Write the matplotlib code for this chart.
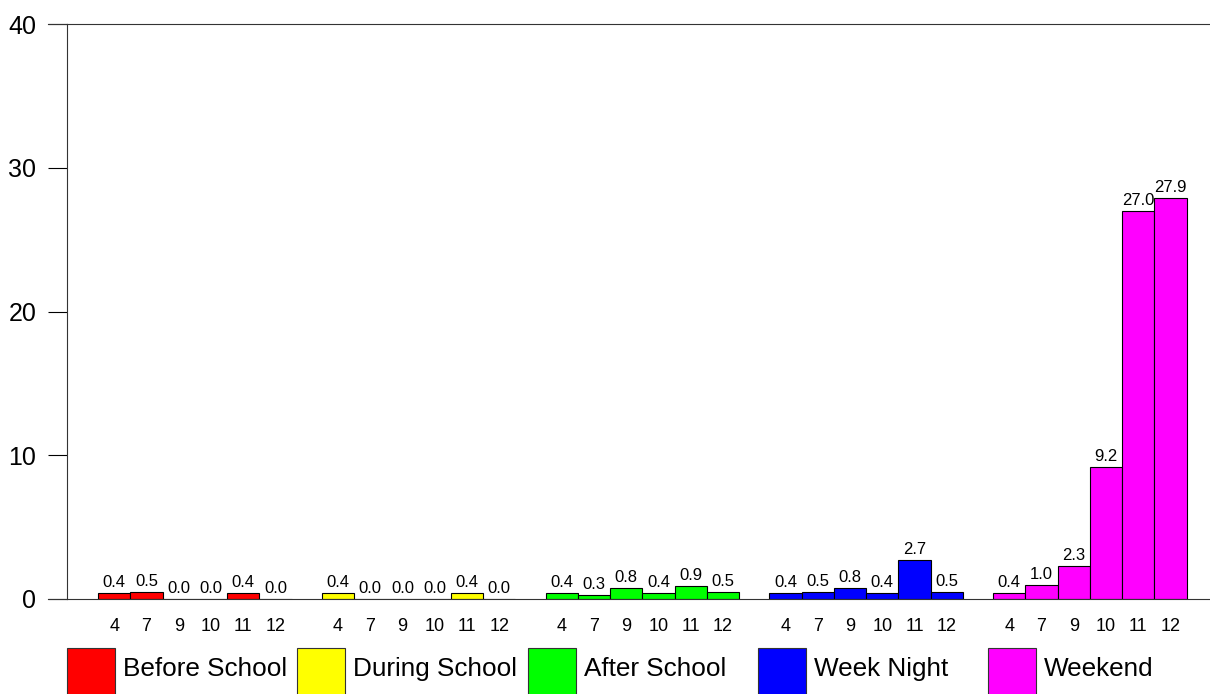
import matplotlib.pyplot as plt
from matplotlib.patches import Rectangle

plt.rcParams['font.family'] = ['Liberation Sans', 'DejaVu Sans']

grades = ["4", "7", "9", "10", "11", "12"]
periods = ["Before School", "During School", "After School", "Week Night", "Weekend"]
colors = ["#ff0000", "#ffff00", "#00ff00", "#0000ff", "#ff00ff"]

before_school = [0.4, 0.5, 0.0, 0.0, 0.4, 0.0]
during_school = [0.4, 0.0, 0.0, 0.0, 0.4, 0.0]
after_school = [0.4, 0.3, 0.8, 0.4, 0.9, 0.5]
week_night = [0.4, 0.5, 0.8, 0.4, 2.7, 0.5]
weekend = [0.4, 1.0, 2.3, 9.2, 27.0, 27.9]
values = [before_school, during_school, after_school, week_night, weekend]


def main():
    W, H = 1210, 694
    fig = plt.figure(figsize=(W / 100, H / 100), dpi=100)
    ax = fig.add_axes([67 / W, (H - 599) / H, (W - 67) / W, (599 - 24) / H])

    start = 0.96
    step = 6.93
    xs, labels = [], []
    for g, vals in enumerate(values):
        for i, v in enumerate(vals):
            x = start + g * step + i + 0.5
            ax.bar(x, v, width=1.0, color=colors[g], edgecolor="black", linewidth=0.8)
            ax.annotate("%.1f" % v, (x, v), xytext=(0, 2), textcoords="offset points",
                        ha="center", va="bottom", fontsize=12)
            xs.append(x)
            labels.append(grades[i])

    ax.set_xlim(0, 35.4)
    ax.set_ylim(0, 40)
    ax.set_yticks([0, 10, 20, 30, 40])
    ax.tick_params(axis="y", direction="out", length=14, width=0.8, pad=8, labelsize=18)
    ax.set_xticks(xs)
    ax.set_xticklabels(labels)
    ax.tick_params(axis="x", length=0, pad=14, labelsize=13)
    ax.spines["right"].set_visible(False)
    for s in ["left", "top", "bottom"]:
        ax.spines[s].set_linewidth(0.8)
        ax.spines[s].set_color("#333333")
    # top and bottom lines reach over the tick area like the original
    ax.plot([-19 / 32.3, 0], [40, 40], color="#333333", lw=0.8, clip_on=False)
    ax.plot([-19 / 32.3, 0], [0, 0], color="#333333", lw=0.8, clip_on=False)

    # legend: evenly spaced boxes along the bottom
    for k, name in enumerate(periods):
        x0 = 67 + k * 230.3
        fig.patches.append(Rectangle((x0 / W, (H - 694) / H - 0.002), 48 / W, 47 / H,
                                     transform=fig.transFigure, facecolor=colors[k],
                                     edgecolor="#333333", linewidth=0.8))
        fig.text((x0 + 56) / W, (H - 669) / H, name, fontsize=18.8, va="center", ha="left")

    fig.savefig("out.png")


if __name__ == '__main__':
    main()
